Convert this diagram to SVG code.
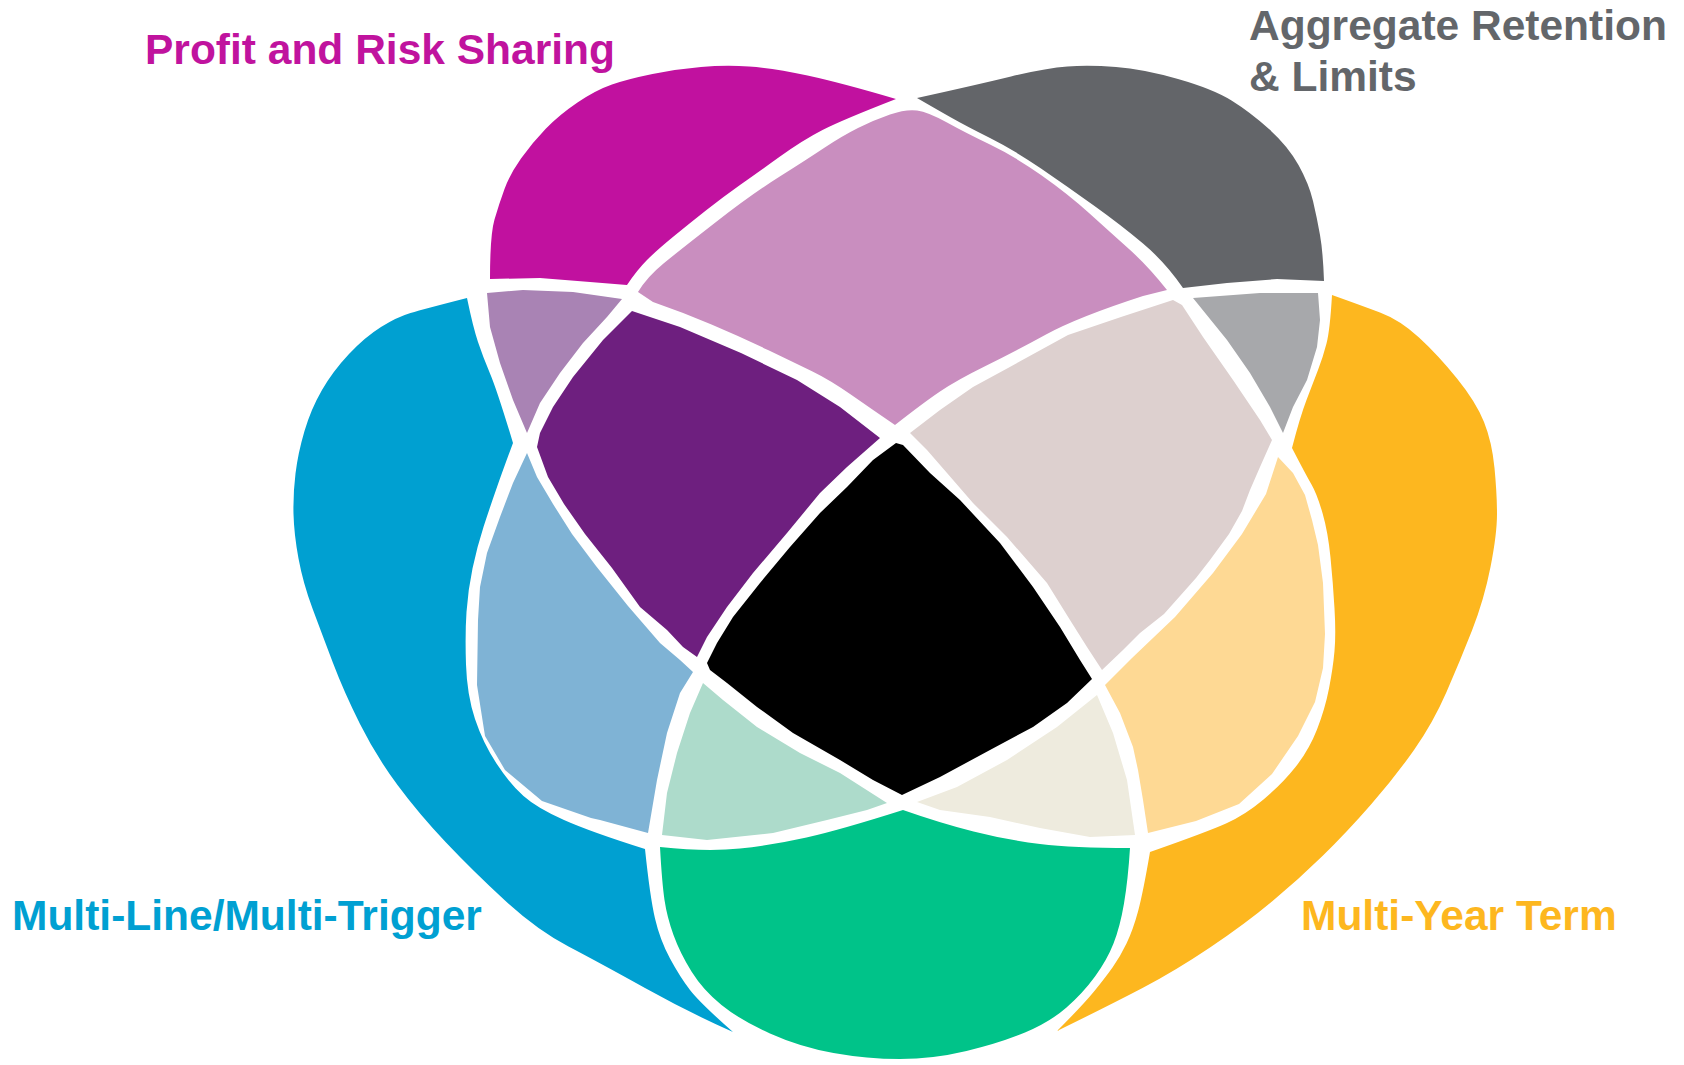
<svg xmlns="http://www.w3.org/2000/svg" width="1684" height="1065" viewBox="0 0 1684 1065">
  <style>
    .region { stroke: none; }
    .label { font-family: "Liberation Sans", Arial, sans-serif; font-weight: bold; font-size: 42.5px; }
  </style>
  <rect width="1684" height="1065" fill="#FFFFFF"/>

  <!-- outer petals: single-feature areas -->
  <g id="profit-risk-sharing">
    <path class="region" fill="#C1119F" d="M490,279 Q490,235 494.5,219.5 Q499,204 504.5,189 Q510,174 521,158.5 Q532,143 545.5,129 Q559,115 577.5,102.5 Q596,90 612,84.5 Q628,79 652.5,74 Q677,69 701,67 Q725,65 749,66.5 Q773,68 807.5,75.5 Q842,83 896,99 Q842,120 822.5,130 Q803,140 780,156.5 Q757,173 740,185 Q723,197 706.5,210 Q690,223 673.5,236.5 Q657,250 647,260 Q637,270 627,285 L590,282 L540,278 Z"/>
  </g>
  <g id="aggregate-retention-limits">
    <path class="region" fill="#636569" d="M917,98 Q976,85 1011,76.5 Q1046,68 1067.5,66.5 Q1089,65 1116,67 Q1143,69 1178,79 Q1213,89 1231.5,100.5 Q1250,112 1269,129 Q1288,146 1298.5,165 Q1309,184 1313,201 Q1317,218 1320,235 Q1323,252 1324,281 L1277,279 L1227,283 L1183,288 Q1165,262 1143,243.5 Q1121,225 1094.5,206 Q1068,187 1041,168.5 Q1014,150 990,138 Q966,126 951,117.5 Q936,109 917,98 Z"/>
  </g>
  <g id="multi-line-multi-trigger">
    <path class="region" fill="#00A0D1" d="M467,298 Q424,309 410.5,313 Q397,317 381,327 Q365,337 349,354 Q333,371 322,390 Q311,409 304.5,431 Q298,453 295.5,473.5 Q293,494 293.5,514 Q294,534 298.5,558.5 Q303,583 312.5,608.5 Q322,634 333,663 Q344,692 360,724 Q376,756 397.5,785 Q419,814 446,842.5 Q473,871 505,900.5 Q537,930 568.5,946.5 Q600,963 645,988 Q690,1013 733,1032 Q700,1003 690,990 Q680,977 670,958.5 Q660,940 655,918.5 Q650,897 645,849 Q591,832 564,820 Q537,808 523.5,796 Q510,784 496.5,763.5 Q483,743 475,719 Q467,695 466,664.5 Q465,634 466.5,612 Q468,590 472.5,568.5 Q477,547 483.5,527 Q490,507 496.5,488.5 Q503,470 513,443 Q497,390 490,373.5 Q483,357 478,342 Q473,327 467,298 Z"/>
  </g>
  <g id="multi-year-term">
    <path class="region" fill="#FDB71F" d="M1332,295 Q1360,305 1380,312.5 Q1400,320 1419,337.5 Q1438,355 1457,378.5 Q1476,402 1484,422 Q1492,442 1494.5,468 Q1497,494 1497,514 Q1497,534 1490.5,567 Q1484,600 1472,630.5 Q1460,661 1446.5,692 Q1433,723 1414,750 Q1395,777 1371,804.5 Q1347,832 1323,855.5 Q1299,879 1272,901.5 Q1245,924 1210,947.5 Q1175,971 1142.5,988 Q1110,1005 1057,1031 Q1083,1005 1094,991.5 Q1105,978 1112.5,967.5 Q1120,957 1126.5,943.5 Q1133,930 1138,911.5 Q1143,893 1150,852 Q1207,832 1226,823.5 Q1245,815 1263.5,799.5 Q1282,784 1295.5,767 Q1309,750 1317,729.5 Q1325,709 1329,688.5 Q1333,668 1334.5,651 Q1336,634 1334.5,608.5 Q1333,583 1330.5,557.5 Q1328,532 1322.5,513 Q1317,494 1311.5,484.5 Q1306,475 1292,448 Q1300,417 1306.5,400 Q1313,383 1318,370 Q1323,357 1326.5,343.5 Q1330,330 1332,295 Z"/>
  </g>
  <g id="bottom-petal">
    <path class="region" fill="#00C389" d="M660,847 Q707,852 740,848.5 Q773,845 806.5,837.5 Q840,830 903,810 Q940,823 973.5,831.5 Q1007,840 1040,844 Q1073,848 1130,848 Q1128,880 1124,903.5 Q1120,927 1113.5,943.5 Q1107,960 1095,976.5 Q1083,993 1066.5,1007.5 Q1050,1022 1025,1032.5 Q1000,1043 966.5,1051 Q933,1059 900,1059 Q867,1059 833.5,1053 Q800,1047 770,1033.5 Q740,1020 721.5,1005 Q703,990 691.5,971.5 Q680,953 673.5,935 Q667,917 664.5,900 Q662,883 660,847 Z"/>
  </g>

  <!-- overlap areas -->
  <g id="profit-aggregate">
    <path class="region" fill="#C98EBF" d="M638,292 Q647,277 663.5,263.5 Q680,250 716,222 Q752,194 779,177 Q806,160 824,148 Q842,136 858,128 Q874,120 890,114.5 Q906,109 917,110.5 Q928,112 947,122.5 Q966,133 990,144.5 Q1014,156 1041,175 Q1068,194 1089,213 Q1110,232 1129,249 Q1148,266 1167,290 L1143,296 Q1078,317 1046,334.5 Q1014,352 985.5,366 Q957,380 940,391.5 Q923,403 895,425 Q873,410 851.5,395 Q830,380 812.5,371.5 Q795,363 768,350 Q741,337 711.5,324.5 Q682,312 653,302 Z"/>
  </g>
  <g id="profit-multiline">
    <path class="region" fill="#A983B4" d="M487,293 L523,290 L573,292 L622,299 L607,317 L583,343 L560,373 L540,403 L527,433 L513,400 L500,363 L490,327 Z"/>
  </g>
  <g id="aggregate-multiyear">
    <path class="region" fill="#A7A8AB" d="M1193,298 L1260,293 L1318,293 L1320,320 L1317,347 L1307,380 L1293,407 L1283,433 L1270,407 L1250,373 L1227,340 Z"/>
  </g>
  <g id="left-inner">
    <path class="region" fill="#6E1F7F" d="M632,311 L680,327 L741,353 L797,380 L840,407 L880,438 L847,467 L820,493 L787,533 L753,573 L727,607 L707,637 L697,657 L683,647 L667,630 L640,607 L612,568 L585,534 L564,504 L548,477 L537,447 L540,433 L553,407 L573,377 L603,340 Z"/>
  </g>
  <g id="right-inner">
    <path class="region" fill="#DDD0CF" d="M910,433 L940,410 L973,387 L1008,368 L1068,335 L1121,317 L1173,300 L1182,305 L1203,337 L1233,380 L1260,420 L1272,440 L1260,467 L1250,490 L1242,511 L1229,534 L1210,560 L1196,578 L1164,614 L1140,633 L1123,650 L1102,670 L1087,647 L1070,620 L1047,583 L1007,537 L973,503 L947,473 L927,450 Z"/>
  </g>
  <g id="lower-left-inner">
    <path class="region" fill="#7FB3D5" d="M527,453 L537,477 L553,504 L572,534 L596,566 L628,606 L660,643 L680,660 L693,672 L680,693 L667,733 L657,780 L648,833 L600,820 L591,818 L542,801 L505,770 L485,736 L477,685 L478,620 L480,587 L487,553 L500,517 L513,483 Z"/>
  </g>
  <g id="lower-right-inner">
    <path class="region" fill="#FED994" d="M1278,457 L1293,473 L1305,495 L1312,520 L1318,545 L1323,583 L1325,634 L1323,668 L1315,702 L1298,736 L1272,774 L1239,804 L1196,821 L1148,833 L1143,800 L1138,770 L1133,747 L1120,713 L1105,685 L1132,658 L1175,617 L1213,573 L1242,534 L1266,494 Z"/>
  </g>
  <g id="bottom-left-inner">
    <path class="region" fill="#ADDBCB" d="M703,683 L723,700 L757,727 L800,753 L840,773 L887,803 L867,810 L827,820 L773,833 L707,840 L662,835 L667,793 L677,753 L690,713 Z"/>
  </g>
  <g id="bottom-right-inner">
    <path class="region" fill="#EEEBDE" d="M917,802 L957,787 L1007,760 L1057,727 L1097,695 L1113,733 L1127,780 L1135,835 L1090,837 L1040,828 L990,817 L940,810 Z"/>
  </g>
  <g id="center-all">
    <path class="region" fill="#000000" d="M896,443 L873,460 L847,487 L820,513 L790,547 L760,583 L733,617 L717,643 L707,663 L710,670 L727,683 L757,707 L793,733 L840,760 L873,780 L902,795 L940,777 L990,750 L1033,727 L1067,703 L1092,679 L1080,660 L1060,627 L1033,587 L1000,543 L960,500 L930,473 L903,445 Z"/>
  </g>

  <!-- labels -->
  <g id="labels">
    <text class="label" x="145" y="64" fill="#C0139E">Profit and Risk Sharing</text>
    <text class="label" x="1249" y="40" fill="#63666A">Aggregate Retention</text>
    <text class="label" x="1249" y="91" fill="#63666A">&amp; Limits</text>
    <text class="label" x="12" y="930" fill="#00A0D2">Multi-Line/Multi-Trigger</text>
    <text class="label" x="1301" y="930" fill="#FDB71F">Multi-Year Term</text>
  </g>
</svg>
